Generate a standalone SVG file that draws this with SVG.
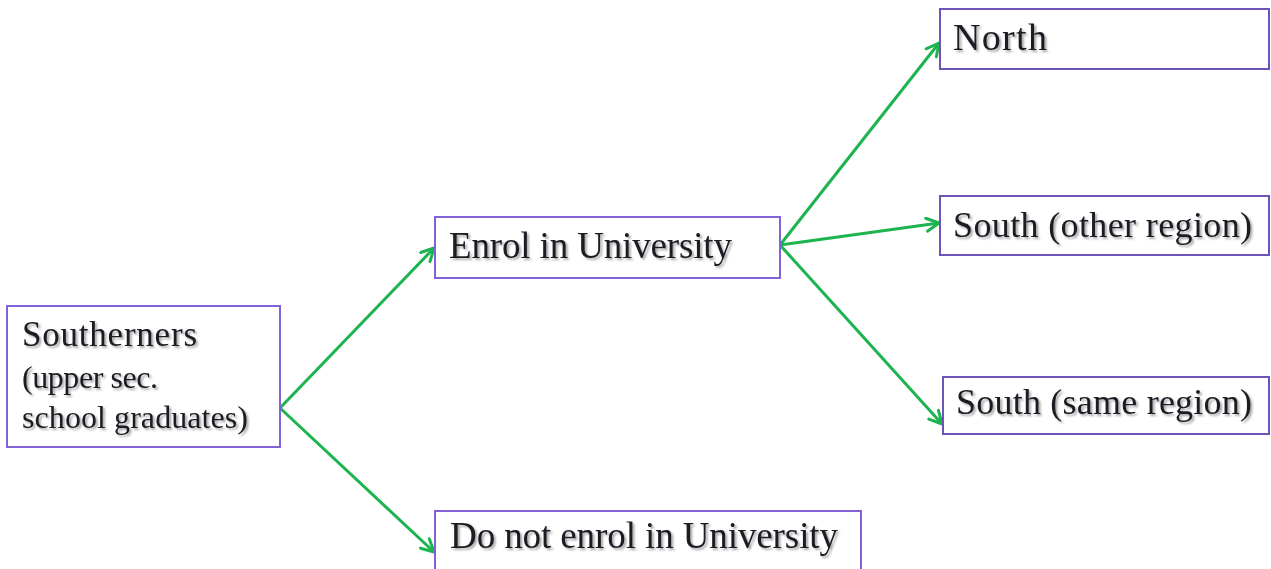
<svg xmlns="http://www.w3.org/2000/svg" width="1271" height="569" viewBox="0 0 1271 569">
<defs>
<marker id="ah" viewBox="0 0 16 16" refX="14.5" refY="8" markerWidth="16" markerHeight="16" markerUnits="userSpaceOnUse" orient="auto">
<path d="M2,1.5 L14.5,8 L2,14.5" fill="none" stroke="#1db34e" stroke-width="3" stroke-linecap="round" stroke-linejoin="round"/>
</marker>
<filter id="sh" x="-5%" y="-20%" width="110%" height="150%">
<feGaussianBlur in="SourceAlpha" stdDeviation="1.2" result="b"/>
<feOffset in="b" dx="2" dy="2" result="o"/>
<feColorMatrix in="o" type="matrix" values="0 0 0 0 0  0 0 0 0 0  0 0 0 0 0  0 0 0 0.35 0" result="s"/>
<feMerge><feMergeNode in="s"/><feMergeNode in="SourceGraphic"/></feMerge>
</filter>
</defs>
<style>
.box{fill:#ffffff;stroke:#8262d6;stroke-width:2}
.box2{fill:#ffffff;stroke:#6e54b8;stroke-width:2}
.t{font-family:"Liberation Serif","Times New Roman",serif;fill:#1a1a22;filter:url(#sh)}
.c{fill:none;stroke:#1db34e;stroke-width:3;marker-end:url(#ah)}
</style>
<rect width="1271" height="569" fill="#ffffff"/>
<g id="connectors">
<line class="c" x1="280" y1="408" x2="434" y2="248"/>
<line class="c" x1="280" y1="408" x2="434" y2="552"/>
<line class="c" x1="780" y1="245" x2="939" y2="43"/>
<line class="c" x1="780" y1="245" x2="939" y2="223"/>
<line class="c" x1="780" y1="245" x2="942" y2="424"/>
</g>
<g id="n-southerners">
<rect class="box" x="7" y="306" width="273" height="141"/>
<text class="t" x="22" y="346" font-size="35" textLength="175">Southerners</text>
<text class="t" x="22" y="388" font-size="32" textLength="136">(upper sec.</text>
<text class="t" x="22" y="428" font-size="32" textLength="226">school graduates)</text>
</g>
<g id="n-enrol">
<rect class="box" x="435" y="217" width="345" height="61"/>
<text class="t" x="449" y="258" font-size="37" textLength="283">Enrol in University</text>
</g>
<g id="n-notenrol">
<rect class="box" x="435" y="511" width="426" height="62"/>
<text class="t" x="450" y="548" font-size="37" textLength="388">Do not enrol in University</text>
</g>
<g id="n-north">
<rect class="box2" x="940" y="9" width="329" height="60"/>
<text class="t" x="953" y="50" font-size="38" textLength="94">North</text>
</g>
<g id="n-south-other">
<rect class="box2" x="940" y="196" width="329" height="59"/>
<text class="t" x="953" y="237" font-size="36" textLength="299">South (other region)</text>
</g>
<g id="n-south-same">
<rect class="box2" x="943" y="377" width="326" height="57"/>
<text class="t" x="956" y="414" font-size="36" textLength="296">South (same region)</text>
</g>
</svg>
